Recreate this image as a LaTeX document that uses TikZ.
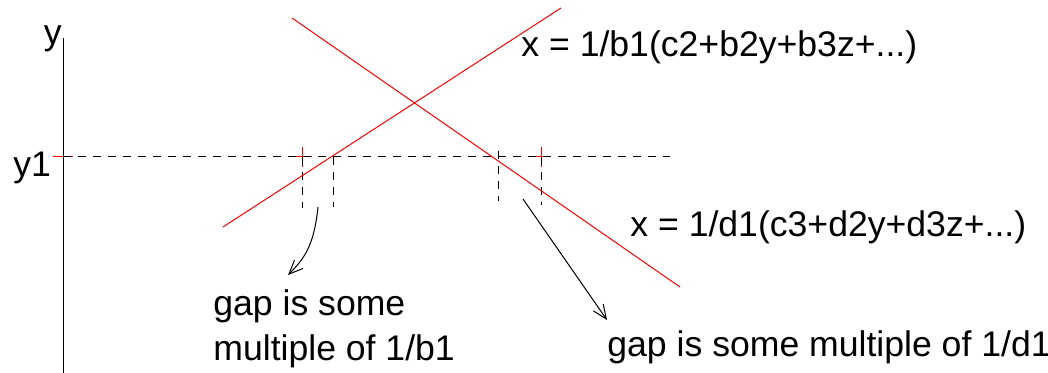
\documentclass[tikz,border=0pt]{standalone}
\usepackage{fontspec}
\setmainfont{Liberation Sans}
\usetikzlibrary{arrows.meta, positioning}

\begin{document}
\begin{tikzpicture}[x=0.5pt, y=-0.5pt,
	redline/.style={draw=red, line width=0.5pt},
	guide/.style={draw=black, dash pattern=on 4pt off 3.5pt, line width=0.5pt},
	txt/.style={inner sep=0pt, anchor=base west, align=left, font=\fontsize{17.8}{22.5}\selectfont},
	pointer/.style={draw=black, line width=0.5pt, -{Straight Barb[length=7pt, width=6pt]}}
	]
	\useasboundingbox (0,0) rectangle (1048,373);
	
	% Red crosses
	\foreach \cx in {63, 302, 541}
	\draw[redline] (\cx,147) -- (\cx,167) (\cx-10,157) -- (\cx+10,157);
	
	% Axis and level y1
	\draw[line width=0.5pt] (63,38) -- (63,373);
	\draw[guide] (63,157) -- (670,157);
	\node[txt, anchor=base east] (ylab) at (62,45) {y};
	\node[txt] (y1lab) at (13,177) {y1};
	
	% Gaps
	\foreach \vx/\vtop/\vbot in {302/157/208, 333/157/207, 498/151/201, 541/157/205}
	\draw[guide] (\vx,\vtop) -- (\vx,\vbot);
	
	% Lines
	\coordinate (b1s) at (223,227);
	\coordinate (b1e) at (561,8);
	\coordinate (d1s) at (292,18);
	\coordinate (d1e) at (680,287);
	\draw[redline] (b1s) -- (b1e);
	\draw[redline] (d1s) -- (d1e);
	\node[txt] (eqb) at (521,57) {x = 1/b1(c2+b2y+b3z+...)};
	\node[txt] (eqd) at (630,237) {x = 1/d1(c3+d2y+d3z+...)};
	
	% Notes
	\node[txt] (gapb) at (213,360) {gap is some\\multiple of 1/b1};
	\node[txt] (gapd) at (607,357) {gap is some multiple of 1/d1};
	\coordinate (pb) at (318,207);
	\coordinate (pd) at (523,199);
	\draw[pointer] (pb) .. controls (314,245) and (305,258) .. (288,275);
	\draw[pointer] (pd) -- (607,320);
\end{tikzpicture}
\end{document}
